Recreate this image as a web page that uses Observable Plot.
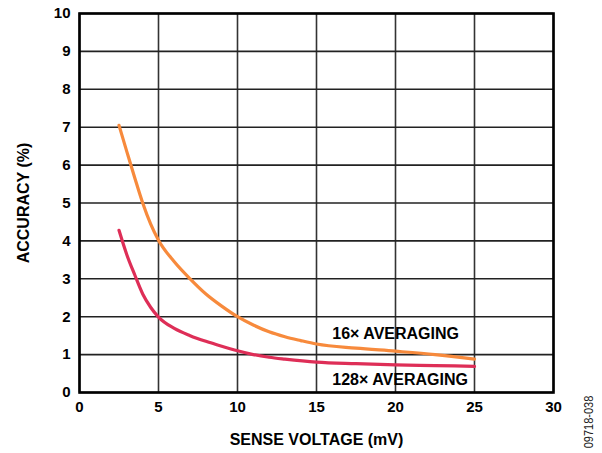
<!DOCTYPE html>
<html>
<head>
<meta charset="utf-8">
<script src="https://cdn.jsdelivr.net/npm/d3@7"></script>
<script src="https://cdn.jsdelivr.net/npm/@observablehq/plot@0.6"></script>
<style>
  html, body { margin: 0; padding: 0; background: #fff; }
  #chart { position: relative; width: 602px; height: 453px; }
  .fn { position: absolute; left: 581px; top: 375px; width: 14px; height: 94px;
        font: 11px "Liberation Sans", Arial, sans-serif; color: #222; }
  .fn span { position: absolute; left: 50%; top: 50%; white-space: nowrap;
        transform: translate(-50%, -50%) rotate(-90deg) scaleY(1.2); }
</style>
</head>
<body>
<div id="chart"></div>
<script>
// Sense voltage (mV) sample points
const x16 = [2.5, 3, 3.5, 4, 4.5, 5, 6, 7, 8, 9, 10, 11, 12, 13, 14, 15, 17.5, 20, 22.5, 25];
const y16 = [7.05, 6.35, 5.66, 5.0, 4.45, 4.02, 3.45, 3.0, 2.6, 2.28, 2.0, 1.78, 1.6, 1.47, 1.37, 1.28, 1.17, 1.09, 1.0, 0.88];
const x128 = [2.5, 3, 3.5, 4, 4.5, 5, 6, 7, 8, 9, 10, 11, 12, 13, 15, 17.5, 20, 22.5, 25];
const y128 = [4.28, 3.63, 3.1, 2.6, 2.25, 1.99, 1.69, 1.5, 1.35, 1.22, 1.1, 1.0, 0.93, 0.88, 0.8, 0.76, 0.73, 0.71, 0.69];
const xTicks = [0, 5, 10, 15, 20, 25, 30];
const yTicks = [0, 1, 2, 3, 4, 5, 6, 7, 8, 9, 10];
const seriesNames = ["16× AVERAGING", "128× AVERAGING"];
const labelPos = [{x: 16, y: 1.55, text: seriesNames[0]}, {x: 16, y: 0.34, text: seriesNames[1]}];

const d16 = x16.map((x, i) => ({x, y: y16[i]}));
const d128 = x128.map((x, i) => ({x, y: y128[i]}));

const plot = Plot.plot({
  width: 602,
  height: 453,
  marginLeft: 79,
  marginRight: 49,
  marginTop: 13,
  marginBottom: 61,
  style: { fontFamily: "'Liberation Sans', Arial, sans-serif", fontWeight: "bold", fontSize: "15px", color: "#000", background: "#fff" },
  x: { domain: [0, 30], ticks: xTicks, tickSize: 0, tickPadding: 9, label: "SENSE VOLTAGE (mV)", labelAnchor: "center", labelArrow: "none", labelOffset: 52 },
  y: { domain: [0, 10], ticks: yTicks, tickSize: 0, tickPadding: 9, label: "ACCURACY (%)", labelAnchor: "center", labelArrow: "none", labelOffset: 62 },
  marks: [
    Plot.gridX(xTicks, { stroke: "#333", strokeOpacity: 1, strokeWidth: 1.6 }),
    Plot.gridY(yTicks, { stroke: "#222", strokeOpacity: 1, strokeWidth: 1.6 }),
    Plot.line(d16, { x: "x", y: "y", stroke: "#F78A3C", strokeWidth: 3.2, curve: "monotone-x" }),
    Plot.line(d128, { x: "x", y: "y", stroke: "#DE2E57", strokeWidth: 3.2, curve: "monotone-x" }),
    Plot.text(labelPos, { x: "x", y: "y", text: "text", textAnchor: "start", fontSize: 16, fontWeight: "bold", fill: "#000" }),
    Plot.frame({ stroke: "#000", strokeWidth: 2.6 })
  ]
});
// enlarge axis titles slightly
plot.querySelectorAll("g[aria-label='x-axis label'], g[aria-label='y-axis label']").forEach(g => g.setAttribute("font-size", "16"));
const chart = document.getElementById("chart");
chart.appendChild(plot);
const fn = document.createElement("div");
fn.className = "fn";
fn.innerHTML = "<span>09718-038</span>";
chart.appendChild(fn);
</script>
</body>
</html>
